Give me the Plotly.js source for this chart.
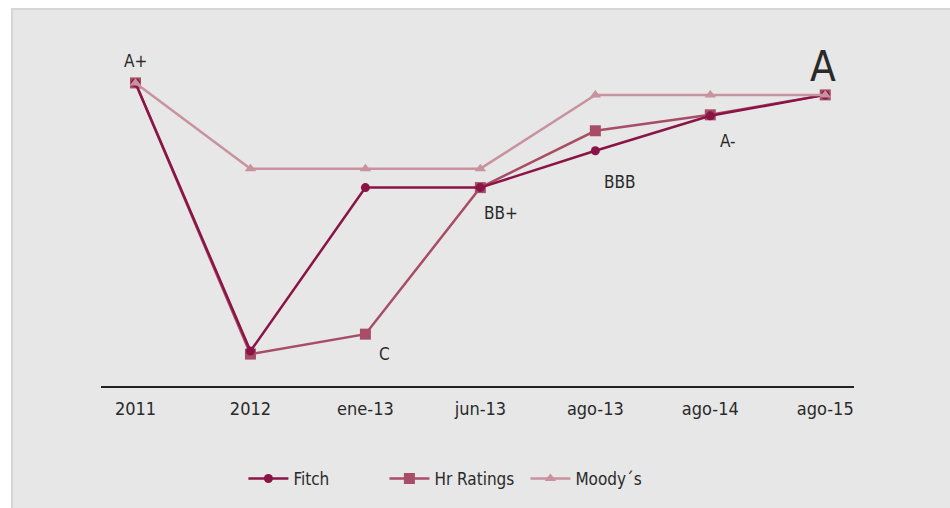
<!DOCTYPE html>
<html>
<head>
<meta charset="utf-8">
<script src="https://cdn.plot.ly/plotly-3.0.1.min.js"></script>
<style>
html,body{margin:0;padding:0;background:#ffffff;width:950px;height:508px;overflow:hidden;}
#frame{position:absolute;left:11px;top:8px;width:939px;height:500px;border-left:2px solid #d5d6d5;border-top:2px solid #d5d6d5;box-sizing:border-box;background:#e6e7e6;}
#chart{position:absolute;left:-13px;top:-10px;width:950px;height:508px;}
</style>
</head>
<body>
<div id="frame"><div id="chart"></div></div>
<script>
// Categories (x axis)
var categories = ["2011", "2012", "ene-13", "jun-13", "ago-13", "ago-14", "ago-15"];
// Rating scores (estimated relative position on rating scale; higher = better)
var fitch     = [304, 35, 199, 199, 236, 271, 292];
var hrRatings = [304, 32, 52, 199, 256, 272, 292];
var moodys    = [304, 218, 218, 218, 292, 292, 292];
// Rating labels shown on chart
var labelText  = ["A+", "A", "C", "BB+", "BBB", "A-"];
var labelCat   = ["2011", "ago-15", "ene-13", "jun-13", "ago-13", "ago-14"];
var labelValue = [304, 292, 52, 199, 236, 272];

var FONT = "'DejaVu Sans Condensed', 'Liberation Sans Narrow', sans-serif";

var traces = [
  {x: categories, y: hrRatings, name: "Hr Ratings", type: "scatter", mode: "lines+markers",
   line: {color: "#a84d67", width: 2.5}, marker: {symbol: "square", size: 11, color: "#a84d67"}, legendrank: 2},
  {x: categories, y: fitch, name: "Fitch", type: "scatter", mode: "lines+markers",
   line: {color: "#8a1446", width: 2.5}, marker: {symbol: "circle", size: 9, color: "#8a1446"}, legendrank: 1},
  {x: categories, y: moodys, name: "Moody´s", type: "scatter", mode: "lines+markers",
   line: {color: "#c9929f", width: 2.5}, marker: {symbol: "triangle-up", size: 10, color: "#c9929f"}, legendrank: 3}
];

var shifts = [
  {xs: 0, ys: 22, size: 17},
  {xs: -2, ys: 28, size: 42},
  {xs: 19, ys: -20, size: 17},
  {xs: 21, ys: -25, size: 17},
  {xs: 24, ys: -31, size: 17},
  {xs: 18, ys: -26, size: 17}
];
var annotations = labelText.map(function (t, i) {
  return {x: categories.indexOf(labelCat[i]), y: labelValue[i], xref: "x", yref: "y", text: t, showarrow: false,
    xshift: shifts[i].xs, yshift: shifts[i].ys,
    font: {family: FONT, size: shifts[i].size, color: "#2a2a2a"}};
});

var layout = {
  width: 950, height: 508,
  paper_bgcolor: "rgba(0,0,0,0)", plot_bgcolor: "rgba(0,0,0,0)",
  margin: {l: 101, r: 96, t: 57, b: 121},
  font: {family: FONT, size: 17, color: "#2a2a2a"},
  showlegend: true,
  legend: {orientation: "h", x: 0.47, xanchor: "center", y: -0.224, yanchor: "top",
    entrywidth: 86, entrywidthmode: "pixels",
    font: {family: FONT, size: 17, color: "#2a2a2a"}, itemwidth: 40, bgcolor: "rgba(0,0,0,0)"},
  xaxis: {type: "category", range: [-0.3, 6.25], showgrid: false, zeroline: false,
    showline: true, linecolor: "#222222", linewidth: 1.5, ticks: "", ticklen: 0, ticklabelstandoff: 6,
    tickfont: {family: FONT, size: 18, color: "#2a2a2a"}, fixedrange: true},
  yaxis: {range: [0, 330], visible: false, showgrid: false, zeroline: false, fixedrange: true},
  annotations: annotations
};

Plotly.newPlot("chart", traces, layout, {displayModeBar: false, staticPlot: true});
</script>
</body>
</html>
